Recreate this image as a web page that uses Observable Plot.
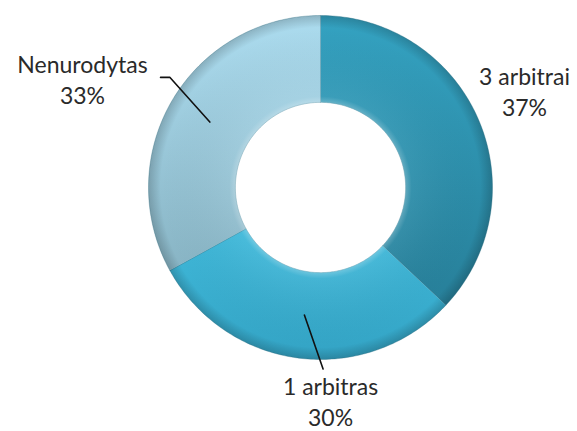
<!DOCTYPE html>
<html>
<head>
<meta charset="utf-8">
<script src="https://cdn.jsdelivr.net/npm/d3@7"></script>
<script src="https://cdn.jsdelivr.net/npm/@observablehq/plot@0.6"></script>
<style>
  html, body { margin: 0; padding: 0; background: #ffffff; }
  #chart { width: 577px; height: 431px; }
</style>
</head>
<body>
<div id="chart"></div>
<script>
// ---- data ----
const categories = ["3 arbitrai", "1 arbitras", "Nenurodytas"];
const shares = [37, 30, 33];
const percentLabels = ["37%", "30%", "33%"];

// ---- layout (not data) ----
const innerR = 0.495, outerR = 1;
const gradIds = ["g0", "g1", "g2"];
// label placement: [angle (deg, clockwise from top), radius] in data units
const labelPlace = [[64.6, 1.313], [177.3, 1.24], [294.6, 1.522]];
const leaderKnee = [null, null, [[-0.875, 0.64], [-0.93, 0.64]]];
const leaderOuter = [null, [0.015, -1.055], null];

const pie = d3.pie().sort(null).value(d => d)(shares);
const deg = Math.PI / 180;

// polygon vertices for each ring slice, computed from pie angles
const polys = [];
pie.forEach((p, i) => {
  const n = Math.max(8, Math.ceil((p.endAngle - p.startAngle) / deg));
  for (let k = 0; k <= n; k++) {
    const a = p.startAngle + (p.endAngle - p.startAngle) * k / n;
    polys.push({cat: categories[i], x: outerR * Math.sin(a), y: outerR * Math.cos(a)});
  }
  for (let k = n; k >= 0; k--) {
    const a = p.startAngle + (p.endAngle - p.startAngle) * k / n;
    polys.push({cat: categories[i], x: innerR * Math.sin(a), y: innerR * Math.cos(a)});
  }
});

// labels
const labels = categories.map((c, i) => {
  const [a, r] = labelPlace[i];
  return {cat: c, text: c + "\n" + percentLabels[i], x: r * Math.sin(a * deg), y: r * Math.cos(a * deg)};
});

// leader lines from slice mid-angle at mid-ring
const leaders = [];
pie.forEach((p, i) => {
  const mid = (p.startAngle + p.endAngle) / 2, rm = (innerR + outerR) / 2;
  if (leaderKnee[i]) {
    leaders.push({id: i, x: rm * Math.sin(mid), y: rm * Math.cos(mid)});
    leaderKnee[i].forEach(([x, y]) => leaders.push({id: i, x, y}));
  } else if (leaderOuter[i]) {
    leaders.push({id: i, x: rm * Math.sin(mid), y: rm * Math.cos(mid)});
    leaders.push({id: i, x: leaderOuter[i][0], y: leaderOuter[i][1]});
  }
});

const R = 172;
const cx = 320, cy = 187;
const W = 577, H = 431;

const plot = Plot.plot({
  width: W, height: H,
  margin: 0,
  x: {domain: [-cx / R, (W - cx) / R], range: [0, W], axis: null},
  y: {domain: [-(H - cy) / R, cy / R], range: [H, 0], axis: null},
  style: {fontFamily: "Lato, 'Open Sans', sans-serif", background: "#fff"},
  marks: [
    ...categories.map((c, i) => Plot.line(polys.filter(d => d.cat === c), {
      x: "x", y: "y", curve: "linear-closed",
      fill: `url(#${gradIds[i]})`, stroke: "#3f7f92", strokeWidth: 0.6, strokeOpacity: 0.6
    })),
    ...categories.map((c, i) => Plot.line(polys.filter(d => d.cat === c), {
      x: "x", y: "y", curve: "linear-closed",
      fill: "url(#bevel)", stroke: "none"
    })),
    Plot.line(leaders, {x: "x", y: "y", z: "id", stroke: "#111", strokeWidth: 1.6}),
    Plot.text(labels, {
      x: "x", y: "y", text: "text", fontSize: 23, lineHeight: 1.35,
      fill: "#2a2a2a", textAnchor: "middle"
    })
  ]
});

// gradient definitions for the slice fills
const ns = "http://www.w3.org/2000/svg";
const defs = document.createElementNS(ns, "defs");
defs.innerHTML = `
  <linearGradient id="g0" x1="0" y1="0" x2="0" y2="1">
    <stop offset="0" stop-color="#34a2c1"/>
    <stop offset="1" stop-color="#277f99"/>
  </linearGradient>
  <linearGradient id="g1" x1="0" y1="0" x2="0" y2="1">
    <stop offset="0" stop-color="#40b9da"/>
    <stop offset="1" stop-color="#33a3c4"/>
  </linearGradient>
  <linearGradient id="g2" x1="0" y1="0" x2="0" y2="1">
    <stop offset="0" stop-color="#acdcef"/>
    <stop offset="1" stop-color="#88b4c4"/>
  </linearGradient>
  <radialGradient id="bevel" gradientUnits="userSpaceOnUse" cx="${cx}" cy="${cy}" r="${R}">
    <stop offset="0.495" stop-color="#ffffff" stop-opacity="0.25"/>
    <stop offset="0.53" stop-color="#ffffff" stop-opacity="0.05"/>
    <stop offset="0.93" stop-color="#000000" stop-opacity="0"/>
    <stop offset="1" stop-color="#000000" stop-opacity="0.18"/>
  </radialGradient>`;
plot.insertBefore(defs, plot.firstChild);
document.getElementById("chart").appendChild(plot);
</script>
</body>
</html>
